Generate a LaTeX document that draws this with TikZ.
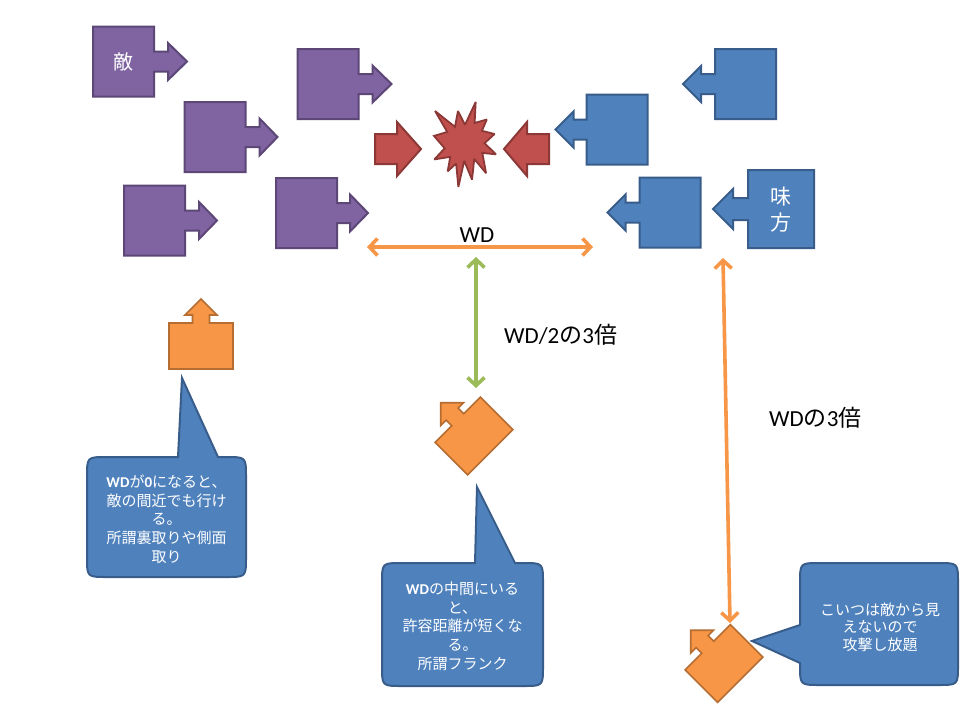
\documentclass[tikz,border=0pt]{standalone}
\usepackage{fontspec}
\setmainfont{Carlito}
\newfontfamily\cjk{Noto Sans CJK JP}
\usetikzlibrary{arrows.meta}
\newcommand\jtext[1]{{\cjk #1}}

\definecolor{purpfill}{HTML}{8064A2}
\definecolor{purpline}{HTML}{5C4776}
\definecolor{bluefill}{HTML}{4F81BD}
\definecolor{blueline}{HTML}{385D8A}
\definecolor{redfill}{HTML}{C0504D}
\definecolor{redline}{HTML}{8C3836}
\definecolor{orgfill}{HTML}{F79646}
\definecolor{orgline}{HTML}{B66D31}
\definecolor{grn}{HTML}{9BBB59}

\tikzset{
  pics/cbox/.style n args={6}{code={
    \path[pic actions] (-#1/2,-#2/2) -- (#1/2,-#2/2) -- (#1/2,-#5) -- ({#1/2+#3},-#5)
      -- ({#1/2+#3},-#6) -- ({#1/2+#3+#4},0) -- ({#1/2+#3},#6) -- ({#1/2+#3},#5)
      -- (#1/2,#5) -- (#1/2,#2/2) -- (-#1/2,#2/2) -- cycle;
  }},
  purplebox/.style={fill=purpfill, draw=purpline, line width=2pt},
  bluebox/.style={fill=bluefill, draw=blueline, line width=2pt},
  orgbox/.style={fill=orgfill, draw=orgline, line width=1.6pt},
  redshape/.style={fill=redfill, draw=redline, line width=2pt},
  callout/.style={fill=bluefill, draw=blueline, line width=2pt},
  calltext/.style={text=white, align=center, inner sep=0pt,
    font=\cjk\fontsize{15}{18.7}\selectfont},
  dimarrow/.style={line width=3.6pt,
    {Straight Barb[length=8pt,width=17pt]}-{Straight Barb[length=8pt,width=17pt]}},
  label/.style={inner sep=0pt, font=\fontsize{23}{27}\selectfont},
}

\begin{document}
\begin{tikzpicture}[x=1pt,y=-1pt]
\fill[white] (0,0) rectangle (960,720);
\useasboundingbox (0,0) rectangle (960,720);

% enemy (purple)
\pic[purplebox] (pA) at (123.5,61.5) {cbox={61}{70}{14}{19}{10}{18.5}};
\pic[purplebox] (pB) at (328,84) {cbox={61}{70}{14}{19}{10}{18.5}};
\pic[purplebox] (pC) at (215,137) {cbox={61}{70}{14}{18}{10}{18.5}};
\pic[purplebox] (pD) at (154.5,220.5) {cbox={61}{70}{14}{18}{10}{18.5}};
\pic[purplebox] (pE) at (306.5,213) {cbox={61}{70}{13}{18}{10}{18.5}};
\node[text=white, inner sep=0pt, font=\cjk\fontsize{20}{24}\selectfont] (tEnemy) at (123.5,62) {敵};

% ally (blue)
\pic[bluebox, rotate=180] (bA) at (745.5,84) {cbox={61}{70}{14}{18}{10}{18}};
\pic[bluebox, rotate=180] (bB) at (617,129.5) {cbox={61}{70}{13}{18}{10}{18}};
\pic[bluebox, rotate=180] (bC) at (670,212.5) {cbox={61}{70}{14}{18}{10}{18}};
\pic[bluebox, rotate=180] (bD) at (781,209) {cbox={66}{78}{15}{20}{11}{20}};
\node[text=white, inner sep=0pt, align=center, font=\cjk\fontsize{21}{26}\selectfont] (tAlly) at (781,210) {味\\方};

% clash
\path[redshape] (375,134) -- (397,134) -- (397,122) -- (421,149) -- (397,176) -- (397,164) -- (375,164) -- cycle;
\path[redshape] (549,134) -- (527,134) -- (527,122) -- (504,149) -- (527,176) -- (527,164) -- (549,164) -- cycle;
\begin{scope}[shift={(434,102)}, xscale=0.287, yscale=0.3935]
\path[redshape, line width=1.8pt, miter limit=2] (108,58) -- (145.22,0) -- (141.55,53.25) -- (183.80,44.57) -- (167.02,73.15)
  -- (210.97,81.37) -- (176.07,104.75) -- (216,132.90) -- (168.37,129.42) -- (181.45,180.95)
  -- (140.20,144.57) -- (132.47,197.37) -- (105.32,149.35) -- (84.85,216) -- (77.15,156.27)
  -- (47.62,176.17) -- (56.67,139.37) -- (1.35,145.87) -- (37.22,117.75) -- (0,86.15)
  -- (46.27,76.17) -- (3.70,22.95) -- (73.12,63.20) -- (83.52,22.95) -- cycle;
\end{scope}

% distances
\coordinate (wdL) at (367,247);
\coordinate (wdR) at (593,247);
\coordinate (gT) at (476,257);
\coordinate (gB) at (476,388);
\coordinate (oT) at (723,258);
\coordinate (oB) at (730,623);
\draw[dimarrow, draw=orgfill] (wdL) -- (wdR);
\draw[dimarrow, draw=grn] (gT) -- (gB);
\draw[dimarrow, draw=orgfill] (oT) -- (oB);
\node[label] (tWD) at (477,235) {WD};
\node[label, anchor=west] (tHalf) at (504,335) {WD/2\jtext{の}3\jtext{倍}};
\node[label, anchor=west] (tThree) at (769,418) {WD\jtext{の}3\jtext{倍}};

% orange units
\pic[orgbox, rotate=90] (oU1) at (201,346) {cbox={46}{64}{8}{16}{8.5}{16}};
\pic[orgbox, rotate=135] (oU2) at (474,436) {cbox={46}{64}{8}{16}{8.5}{16}};
\pic[orgbox, rotate=135] (oU3) at (724,663.5) {cbox={46}{64}{8}{16}{8.5}{16}};

% callouts
\path[callout] (178,457) -- (182,378) -- (218,457) -- (226,457) .. controls (246,457) .. (246,477)
  -- (246,557) .. controls (246,577) .. (226,577) -- (107,577) .. controls (87,577) .. (87,557)
  -- (87,477) .. controls (87,457) .. (107,457) -- cycle;
\node[calltext] (c1t) at (166.5,519) {{\rmfamily\bfseries WD}が{\rmfamily\bfseries 0}になると、\\敵の間近でも行け\\る。\\所謂裏取りや側面\\取り};

\path[callout] (475,563) -- (477,487) -- (515,563) -- (523,563) .. controls (543,563) .. (543,583)
  -- (543,666) .. controls (543,686) .. (523,686) -- (402,686) .. controls (382,686) .. (382,666)
  -- (382,583) .. controls (382,563) .. (402,563) -- cycle;
\node[calltext] (c2t) at (462.5,626) {{\rmfamily\bfseries WD}の中間にいる\\と、\\許容距離が短くな\\る。\\所謂フランク};

\path[callout] (800,625) -- (752,641) -- (800,663) -- (800,665) .. controls (800,685) .. (820,685)
  -- (938,685) .. controls (958,685) .. (958,665) -- (958,583) .. controls (958,563) .. (938,563)
  -- (820,563) .. controls (800,563) .. (800,583) -- cycle;
\node[calltext, font=\cjk\fontsize{15}{17.5}\selectfont] (c3t) at (880,627) {こいつは敵から見\\えないので\\攻撃し放題};
\end{tikzpicture}
\end{document}
